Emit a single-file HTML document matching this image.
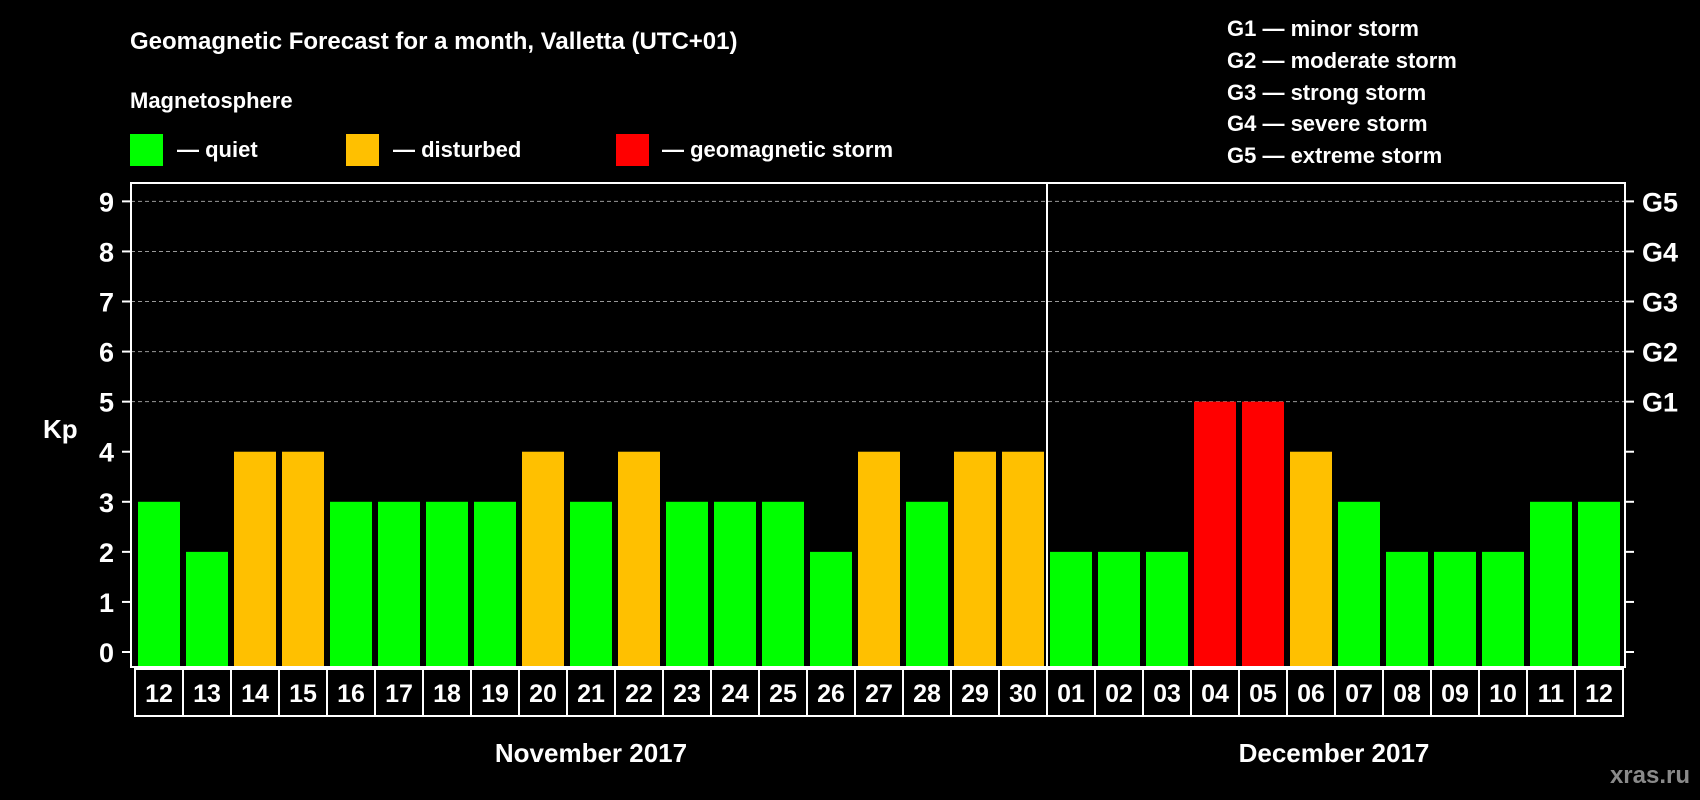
<!DOCTYPE html>
<html><head><meta charset="utf-8"><style>
html,body{margin:0;padding:0;background:#000;}
svg{display:block;font-family:"Liberation Sans",Arial,sans-serif;font-weight:bold;}
</style></head><body>
<svg id="chart" width="1700" height="800" viewBox="0 0 1700 800">
<rect width="1700" height="800" fill="#000"/>
<text x="130" y="49" fill="#fff" font-size="24">Geomagnetic Forecast for a month, Valletta (UTC+01)</text>
<text x="130" y="108" fill="#fff" font-size="22">Magnetosphere</text>
<g><rect x="130" y="134" width="33" height="32" fill="#00ff00"/><text x="177" y="157" fill="#fff" font-size="22">— quiet</text></g>
<g><rect x="346" y="134" width="33" height="32" fill="#ffc000"/><text x="393" y="157" fill="#fff" font-size="22">— disturbed</text></g>
<g><rect x="616" y="134" width="33" height="32" fill="#ff0000"/><text x="662" y="157" fill="#fff" font-size="22">— geomagnetic storm</text></g>
<g fill="#fff" font-size="22">
<text x="1227" y="36">G1 — minor storm</text>
<text x="1227" y="68">G2 — moderate storm</text>
<text x="1227" y="100">G3 — strong storm</text>
<text x="1227" y="131">G4 — severe storm</text>
<text x="1227" y="163">G5 — extreme storm</text>
</g>
<text x="43" y="438" fill="#fff" font-size="26">Kp</text>
<text x="591" y="762" fill="#fff" font-size="26" text-anchor="middle">November 2017</text>
<text x="1334" y="762" fill="#fff" font-size="26" text-anchor="middle">December 2017</text>
<text x="1690" y="783" fill="#8a8a8a" font-size="24" text-anchor="end">xras.ru</text>
<g id="grid"></g><g id="bars"></g><g id="axes"></g>
</svg>
<script>
const days=["12","13","14","15","16","17","18","19","20","21","22","23","24","25","26","27","28","29","30","01","02","03","04","05","06","07","08","09","10","11","12"];
const kp=[3,2,4,4,3,3,3,3,4,3,4,3,3,3,2,4,3,4,4,2,2,2,5,5,4,3,2,2,2,3,3];
const yTicks=[0,1,2,3,4,5,6,7,8,9];
const gLabels=["","","","","","G1","G2","G3","G4","G5"];
const monthSplit=19;
const NS="http://www.w3.org/2000/svg";
const L=131,R=1625,T=183,B=667,X0=135,PITCH=48;
function y(v){return 652-50.07*v;}
function x(i){return X0+i*PITCH;}
function mk(p,tag,a){const e=document.createElementNS(NS,tag);for(const k in a)e.setAttribute(k,a[k]);p.appendChild(e);return e;}
const grid=document.getElementById('grid'),bars=document.getElementById('bars'),axes=document.getElementById('axes');
yTicks.forEach(v=>{
 if(v>=5){const g=mk(grid,'line',{x1:L,x2:R,y1:y(v),y2:y(v),stroke:'#999','stroke-width':1,'stroke-dasharray':'4,3'});
 
 }
 const t1=mk(axes,'line',{x1:L-9,x2:L,y1:y(v),y2:y(v),stroke:'#fff','stroke-width':2});
 
 
 const t2=mk(axes,'line',{x1:R,x2:R+9,y1:y(v),y2:y(v),stroke:'#fff','stroke-width':2});
 
 
 const lb=mk(axes,'text',{x:114,y:y(v)+10,fill:'#fff','font-size':27,'text-anchor':'end'});lb.textContent=v;
 
 
 if(gLabels[v]){const gl=mk(axes,'text',{x:1642,y:y(v)+10,fill:'#fff','font-size':27});gl.textContent=gLabels[v];
 
 }
});
kp.forEach((v,i)=>{
 const c=v>=5?'#ff0000':(v>=4?'#ffc000':'#00ff00');
 const b=mk(bars,'rect',{x:x(i)+3,y:y(v),width:42,height:B-y(v),fill:c});
 
 
 const bx=mk(axes,'rect',{x:x(i),y:669,width:PITCH,height:47,fill:'none',stroke:'#fff','stroke-width':2});
 
 
 const t=mk(axes,'text',{x:x(i)+PITCH/2,y:702,fill:'#fff','font-size':25,'text-anchor':'middle'});t.textContent=days[i];
 
 
});
const fr=mk(axes,'rect',{x:L,y:T,width:R-L,height:B-T,fill:'none',stroke:'#fff','stroke-width':2});


const dv=mk(axes,'line',{x1:x(monthSplit),x2:x(monthSplit),y1:T,y2:B,stroke:'#fff','stroke-width':2});


</script>
</body></html>
